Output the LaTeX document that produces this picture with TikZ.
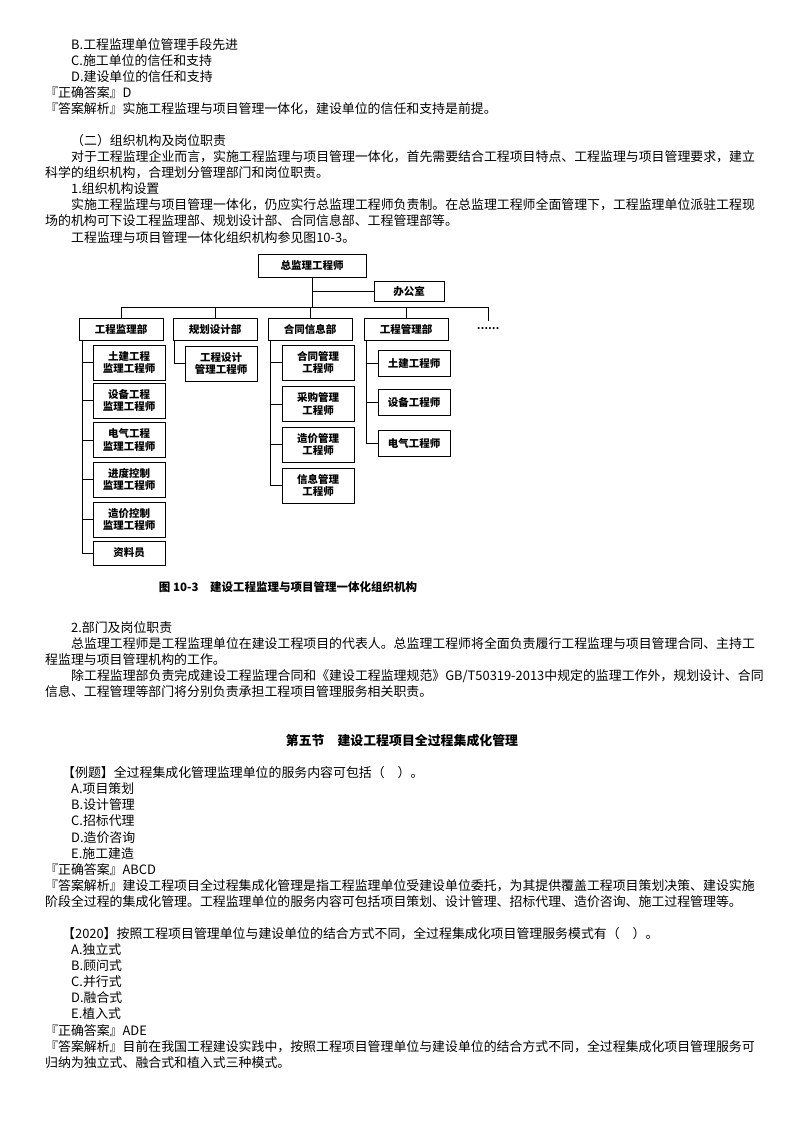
\documentclass[tikz,border=0pt]{standalone}
\usepackage{fontspec}
\setmainfont{Noto Sans CJK SC}
\begin{document}
\begin{tikzpicture}[x=1pt,y=1pt,
  txt/.style={anchor=west,inner sep=0pt,font=\fontsize{12.9}{14}\selectfont},
  bx/.style={draw,line width=0.9pt,align=center,inner sep=1pt,font=\bfseries\fontsize{10.5}{12.5}\selectfont,minimum width=72pt,minimum height=35pt},
  dp/.style={bx,minimum width=84pt,minimum height=22pt},
  ln/.style={line width=0.9pt}]
\useasboundingbox (0,0) rectangle (800,-1132);
\newcommand\tl[4]{\node[txt] (#1) at (#2,-#3) {#4};}
\tl{a1}{71}{45}{B.工程监理单位管理手段先进}
\tl{a2}{71}{61}{C.施工单位的信任和支持}
\tl{a3}{71}{77}{D.建设单位的信任和支持}
\tl{a4}{45}{93}{『正确答案』D}
\tl{a5}{45}{109}{『答案解析』实施工程监理与项目管理一体化，建设单位的信任和支持是前提。}
\tl{a6}{71}{141}{（二）组织机构及岗位职责}
\tl{a7}{71}{157}{对于工程监理企业而言，实施工程监理与项目管理一体化，首先需要结合工程项目特点、工程监理与项目管理要求，建立}
\tl{a8}{45}{173}{科学的组织机构，合理划分管理部门和岗位职责。}
\tl{a9}{71}{189}{1.组织机构设置}
\tl{a10}{71}{205}{实施工程监理与项目管理一体化，仍应实行总监理工程师负责制。在总监理工程师全面管理下，工程监理单位派驻工程现}
\tl{a11}{45}{221}{场的机构可下设工程监理部、规划设计部、合同信息部、工程管理部等。}
\tl{a12}{71}{238}{工程监理与项目管理一体化组织机构参见图10-3。}
\tl{b1}{71}{628}{2.部门及岗位职责}
\tl{b2}{71}{644}{总监理工程师是工程监理单位在建设工程项目的代表人。总监理工程师将全面负责履行工程监理与项目管理合同、主持工}
\tl{b3}{45}{660}{程监理与项目管理机构的工作。}
\tl{b4}{71}{676}{除工程监理部负责完成建设工程监理合同和《建设工程监理规范》GB/T50319-2013中规定的监理工作外，规划设计、合同}
\tl{b5}{45}{692}{信息、工程管理等部门将分别负责承担工程项目管理服务相关职责。}
\node[font=\bfseries\fontsize{12.9}{14}\selectfont,inner sep=0pt] (title) at (402,-741) {第五节\quad 建设工程项目全过程集成化管理};
\tl{c1}{62}{773}{【例题】全过程集成化管理监理单位的服务内容可包括（　）。}
\tl{c2}{71}{789}{A.项目策划}
\tl{c3}{71}{805}{B.设计管理}
\tl{c4}{71}{821}{C.招标代理}
\tl{c5}{71}{838}{D.造价咨询}
\tl{c6}{71}{854}{E.施工建造}
\tl{c7}{45}{870}{『正确答案』ABCD}
\tl{c8}{45}{886}{『答案解析』建设工程项目全过程集成化管理是指工程监理单位受建设单位委托，为其提供覆盖工程项目策划决策、建设实施}
\tl{c9}{45}{902}{阶段全过程的集成化管理。工程监理单位的服务内容可包括项目策划、设计管理、招标代理、造价咨询、施工过程管理等。}
\tl{d1}{62}{934}{【2020】按照工程项目管理单位与建设单位的结合方式不同，全过程集成化项目管理服务模式有（　）。}
\tl{d2}{71}{950}{A.独立式}
\tl{d3}{71}{966}{B.顾问式}
\tl{d4}{71}{982}{C.并行式}
\tl{d5}{71}{998}{D.融合式}
\tl{d6}{71}{1014}{E.植入式}
\tl{d7}{45}{1031}{『正确答案』ADE}
\tl{d8}{45}{1047}{『答案解析』目前在我国工程建设实践中，按照工程项目管理单位与建设单位的结合方式不同，全过程集成化项目管理服务可}
\tl{d9}{45}{1063}{归纳为独立式、融合式和植入式三种模式。}
% chart
\node[bx,minimum width=108pt,minimum height=23pt] (top) at (312,-265.5) {总监理工程师};
\node[bx,minimum width=70pt,minimum height=20pt] (off) at (409,-291) {办公室};
\node[dp] (p1) at (121,-329) {工程监理部};
\node[dp] (p2) at (215,-329) {规划设计部};
\node[dp] (p3) at (310,-329) {合同信息部};
\node[dp] (p4) at (406,-329) {工程管理部};
\node[inner sep=0pt,font=\bfseries] (dots) at (488,-329) {……};
\coordinate (bl) at (121,-307);
\coordinate (br) at (488,-307);
\coordinate (be) at (488,-321);
\node[bx] (q1) at (129,-362.5) {土建工程\\监理工程师};
\node[bx] (q2) at (129,-400.5) {设备工程\\监理工程师};
\node[bx] (q3) at (129,-440) {电气工程\\监理工程师};
\node[bx] (q4) at (129,-479.5) {进度控制\\监理工程师};
\node[bx] (q5) at (129,-519.5) {造价控制\\监理工程师};
\node[bx,minimum height=24pt] (q6) at (129,-553) {资料员};
\node[bx] (r1) at (221,-363.5) {工程设计\\管理工程师};
\node[bx] (s1) at (318,-362.5) {合同管理\\工程师};
\node[bx] (s2) at (318,-404) {采购管理\\工程师};
\node[bx] (s3) at (318,-444.5) {造价管理\\工程师};
\node[bx] (s4) at (318,-485.5) {信息管理\\工程师};
\node[bx,minimum height=26pt] (u1) at (414,-363.5) {土建工程师};
\node[bx,minimum height=26pt] (u2) at (414,-402.5) {设备工程师};
\node[bx,minimum height=26pt] (u3) at (414,-443.5) {电气工程师};
\draw[ln] (top.south) -- (top.south |- bl);
\draw[ln] (top.south |- off.west) -- (off.west);
\draw[ln] (bl) -- (br) -- (be);
\foreach \p in {p1,p2,p3,p4} \draw[ln] (\p.north) -- (\p.north |- bl);
\foreach \c in {q1,q2,q3,q4,q5,q6} \draw[ln] ([xshift=4pt]p1.south west) |- (\c.west);
\draw[ln] ([xshift=2pt]p2.south west) |- (r1.west);
\foreach \c in {s1,s2,s3,s4} \draw[ln] ([xshift=3pt]p3.south west) |- (\c.west);
\foreach \c in {u1,u2,u3} \draw[ln] ([xshift=3pt]p4.south west) |- (\c.west);
\node[font=\bfseries\fontsize{11.5}{13}\selectfont,inner sep=0pt] (cap) at (288,-587) {图 10-3\quad 建设工程监理与项目管理一体化组织机构};
\end{tikzpicture}
\end{document}
